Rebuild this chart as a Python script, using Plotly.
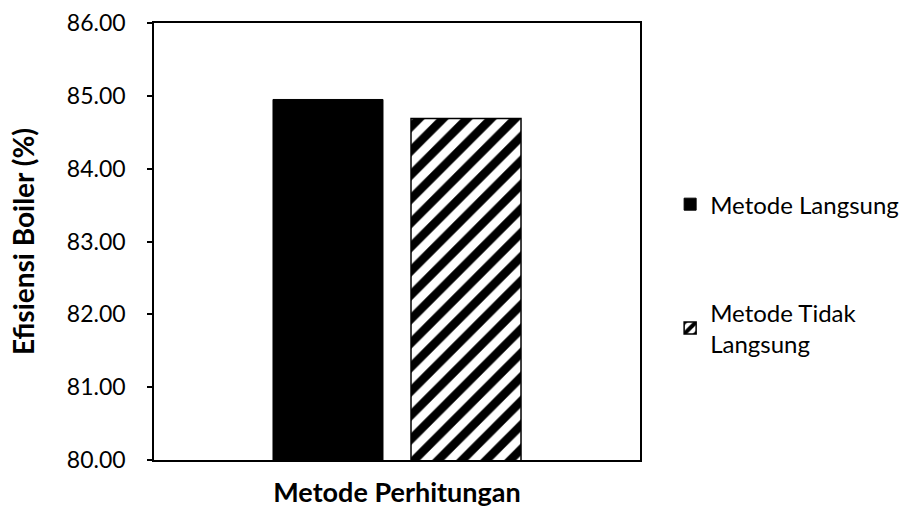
import plotly.graph_objects as go

categories = ["Metode Perhitungan"]
series_names = ["Metode Langsung", "Metode Tidak<br>Langsung"]
values_langsung = [84.95]
values_tidak_langsung = [84.69]
y_ticks = [80, 81, 82, 83, 84, 85, 86]

FONT = "Lato"

fig = go.Figure()
fig.add_trace(go.Bar(
    x=categories, y=values_langsung, name=series_names[0],
    marker=dict(color="black", line=dict(color="black", width=1)),
    legendgroup="a",
))
fig.add_trace(go.Bar(
    x=categories, y=values_tidak_langsung, name=series_names[1],
    marker=dict(color="white", line=dict(color="black", width=1.5),
                pattern=dict(shape="/", fgcolor="black", bgcolor="white",
                             fgopacity=1, size=17, solidity=0.5)),
    legendgroup="b",
))

fig.update_layout(
    width=903, height=514,
    margin=dict(l=154, r=263, t=23, b=54, autoexpand=False),
    paper_bgcolor="white", plot_bgcolor="white",
    font=dict(family=FONT, size=23, color="black"),
    barmode="group", bargap=0.432, bargroupgap=0.203,
    showlegend=True,
    legend=dict(x=1.062, xanchor="left", y=0.636, yanchor="top",
                font=dict(family=FONT, size=24, color="black"),
                tracegroupgap=74, bgcolor="rgba(0,0,0,0)"),
    xaxis=dict(showticklabels=False, ticks="", showline=True, mirror=True,
               linecolor="black", linewidth=1.5, showgrid=False, automargin=False,
               title=dict(text="<b>Metode Perhitungan</b>", standoff=22,
                          font=dict(family=FONT, size=27))),
    yaxis=dict(range=[80, 86], tickvals=y_ticks, tickformat=".2f",
               ticks="outside", ticklen=5, tickwidth=1.5, tickcolor="black",
               ticklabelstandoff=17, automargin=False,
               showline=True, mirror=True, linecolor="black", linewidth=1.5,
               showgrid=False, zeroline=False,
               tickfont=dict(family=FONT, size=23),
               title=dict(text="<b>Efisiensi Boiler (%)</b>", standoff=24,
                          font=dict(family=FONT, size=28))),
)

fig.write_html("out.html", config={"displayModeBar": False},
               post_script="document.body.style.margin='0';document.body.style.overflow='hidden';")
